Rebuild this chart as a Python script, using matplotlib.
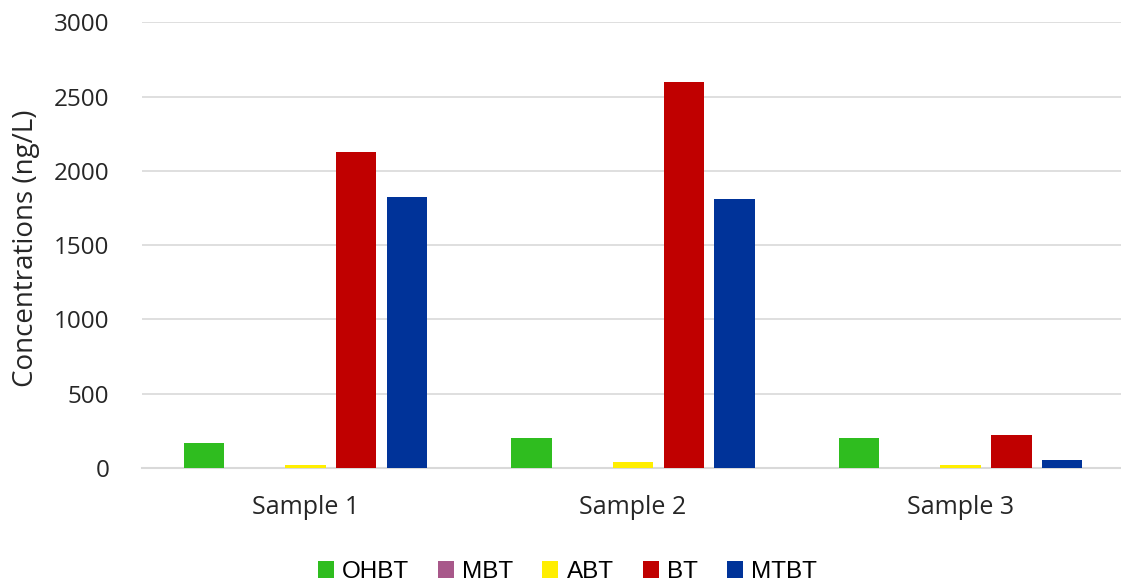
import numpy as np
import matplotlib.pyplot as plt

samples = ["Sample 1", "Sample 2", "Sample 3"]
compounds = ["OHBT", "MBT", "ABT", "BT", "MTBT"]
ohbt = [170, 205, 205]
mbt = [0, 0, 0]
abt = [20, 38, 20]
bt = [2125, 2600, 225]
mtbt = [1825, 1810, 55]
colors = ["#2fbd1f", "#a8588a", "#ffee00", "#c00000", "#003399"]

series = [ohbt, mbt, abt, bt, mtbt]

fig = plt.figure(figsize=(11.21, 5.85), dpi=100)
ax = fig.add_axes([0.1265, 0.2, 0.8765, 0.762])

x = np.arange(len(samples))
slot = 0.155
width = 0.123
for i, (name, vals, c) in enumerate(zip(compounds, series, colors)):
    ax.bar(x + (i - 2) * slot, vals, width, color=c, label=name, zorder=3)

txt = "#262626"
ax.set_xlim(-0.5, 2.5)
ax.set_ylim(0, 3000)
ax.set_yticks(np.arange(0, 3001, 500))
ax.set_xticks(x)
ax.set_xticklabels(samples, fontfamily="Open Sans", fontsize=18, color=txt)
for lab in ax.get_yticklabels():
    lab.set_fontfamily("Open Sans")
    lab.set_fontsize(17.5)
    lab.set_color(txt)
ax.tick_params(length=0)
ax.tick_params(axis="y", pad=23.5)
ax.tick_params(axis="x", pad=19.5)
ax.grid(axis="y", color="#d9d9d9", linewidth=1.2, zorder=0)
for s in ["top", "right", "left"]:
    ax.spines[s].set_visible(False)
ax.spines["bottom"].set_color("#d9d9d9")
ax.spines["bottom"].set_linewidth(1.5)
ax.set_ylabel("Concentrations (ng/L)", fontfamily="Open Sans", fontsize=20,
              color=txt)
ax.yaxis.set_label_coords(-0.104, 0.493)

fig.legend(loc="center", bbox_to_anchor=(0.506, 0.022), ncol=5,
           frameon=False, handlelength=0.66, handleheight=0.7,
           handletextpad=0.33, columnspacing=1.2,
           prop={"family": "Liberation Sans", "size": 17.5})

fig.savefig("out.png", dpi=100)
